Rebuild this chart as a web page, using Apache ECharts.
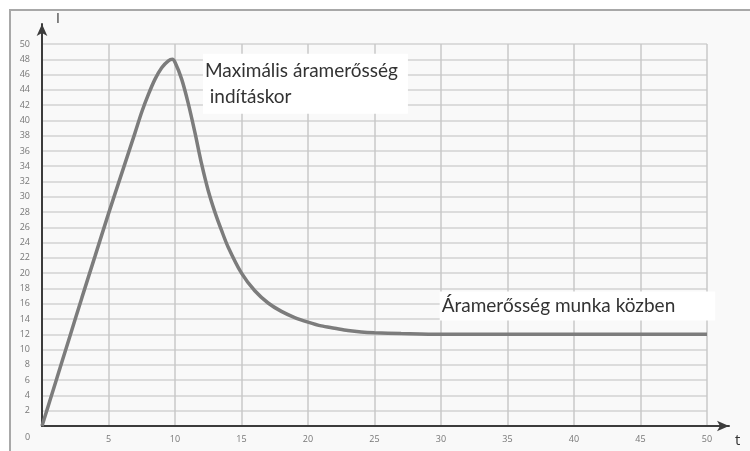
<!DOCTYPE html>
<html>
<head>
<meta charset="utf-8">
<script src="https://cdn.jsdelivr.net/npm/echarts@6/dist/echarts.min.js"></script>
<style>
    html, body { margin: 0; padding: 0; background: #fff; }
    #chart { width: 750px; height: 451px; }
</style>
</head>
<body>
<div id="chart"></div>
<script>
// ido (t) es aramerosseg (I) - leolvasva a kepről
var tValues = [0, 1, 2, 3, 4, 5, 6, 7, 7.5, 8, 8.5, 9, 9.5, 9.8, 10, 10.5, 11, 11.5, 12, 12.5, 13, 13.5, 14, 15, 16, 17, 18, 19, 20, 21, 22, 23, 24, 25, 27, 30, 35, 40, 45, 50];
var iValues = [0, 5.6, 11.2, 16.8, 22.3, 27.8, 33.1, 38.4, 41.1, 43.4, 45.4, 46.9, 47.8, 48.0, 47.6, 45.4, 42.2, 38.4, 34.3, 30.8, 28.0, 25.6, 23.4, 20.0, 17.7, 16.1, 15.0, 14.2, 13.6, 13.1, 12.8, 12.5, 12.3, 12.2, 12.1, 12, 12, 12, 12, 12];
var xTicks = [0, 5, 10, 15, 20, 25, 30, 35, 40, 45, 50];
var yTicks = [0, 2, 4, 6, 8, 10, 12, 14, 16, 18, 20, 22, 24, 26, 28, 30, 32, 34, 36, 38, 40, 42, 44, 46, 48, 50];
var peakNote = 'Maximális áramerősség\n indításkor';
var steadyNote = 'Áramerősség munka közben';

var tickFont = { fontSize: 9, color: '#777', fontFamily: 'Open Sans' };
var noteFont = { fontSize: 19, color: '#333', fontFamily: 'Lato' };

var myChart = echarts.init(document.getElementById('chart'));
myChart.setOption({
    backgroundColor: '#fff',
    animation: false,
    graphic: [
        { type: 'rect', z: -100, silent: true, shape: { x: 10, y: 10, width: 800, height: 500 },
          style: { fill: '#f9f9f9', stroke: '#a8a8a8', lineWidth: 2 } },
        { type: 'text', left: 56, top: 12, style: { text: 'I', fontSize: 14, fill: '#333', fontFamily: 'Open Sans' } },
        { type: 'text', left: 735, top: 433, style: { text: 't', fontSize: 15, fill: '#333', fontFamily: 'Open Sans' } },
        { type: 'text', left: 25, top: 433, style: { text: '0', fontSize: 9, fill: '#777', fontFamily: 'Open Sans' } }
    ],
    grid: [
        { left: 42, right: 43, top: 44, bottom: 25 },
        { left: 42, right: 21, top: 24, bottom: 25 }
    ],
    xAxis: [{
        type: 'value', gridIndex: 0, min: 0, max: 50, interval: 5,
        axisLine: { show: false }, axisTick: { show: false },
        axisLabel: Object.assign({ margin: 9, formatter: function (v) {
            return v === 0 || xTicks.indexOf(v) < 0 ? '' : String(v);
        } }, tickFont),
        splitLine: { lineStyle: { color: '#c9c9c9', width: 1.5 } }
    }, {
        type: 'value', gridIndex: 1, min: 0, max: 1,
        axisLine: { show: true, symbol: ['none', 'arrow'], symbolSize: [8, 12], lineStyle: { color: '#3c3c3c', width: 2 } },
        axisTick: { show: false }, axisLabel: { show: false }, splitLine: { show: false }
    }],
    yAxis: [{
        type: 'value', gridIndex: 0, min: 0, max: 50, interval: 2,
        axisLine: { show: false }, axisTick: { show: false },
        axisLabel: Object.assign({ margin: 12, formatter: function (v) {
            return v === 0 || yTicks.indexOf(v) < 0 ? '' : String(v);
        } }, tickFont),
        splitLine: { lineStyle: { color: '#d2d2d2', width: 1.5 } }
    }, {
        type: 'value', gridIndex: 1, min: 0, max: 1,
        axisLine: { show: true, symbol: ['none', 'arrow'], symbolSize: [8, 12], lineStyle: { color: '#3c3c3c', width: 2 } },
        axisTick: { show: false }, axisLabel: { show: false }, splitLine: { show: false }
    }],
    series: [{
        name: 'I',
        type: 'line',
        xAxisIndex: 0,
        yAxisIndex: 0,
        smooth: 0.3,
        showSymbol: false,
        lineStyle: { color: '#7c7c7c', width: 3.5 },
        data: tValues.map(function (t, i) { return [t, iValues[i]]; }),
        markPoint: {
            symbol: 'circle', symbolSize: 0,
            label: Object.assign({ show: true, position: [0, 0], align: 'left', verticalAlign: 'middle',
                backgroundColor: '#fff' }, noteFont),
            data: [
                { coord: [12.1, 44.8], label: { formatter: peakNote, lineHeight: 26, padding: [3, 10, 5, 2] } },
                { coord: [29.9, 15.7], label: { formatter: steadyNote, padding: [5, 40, 5, 2] } }
            ]
        }
    }]
});
</script>
</body>
</html>
